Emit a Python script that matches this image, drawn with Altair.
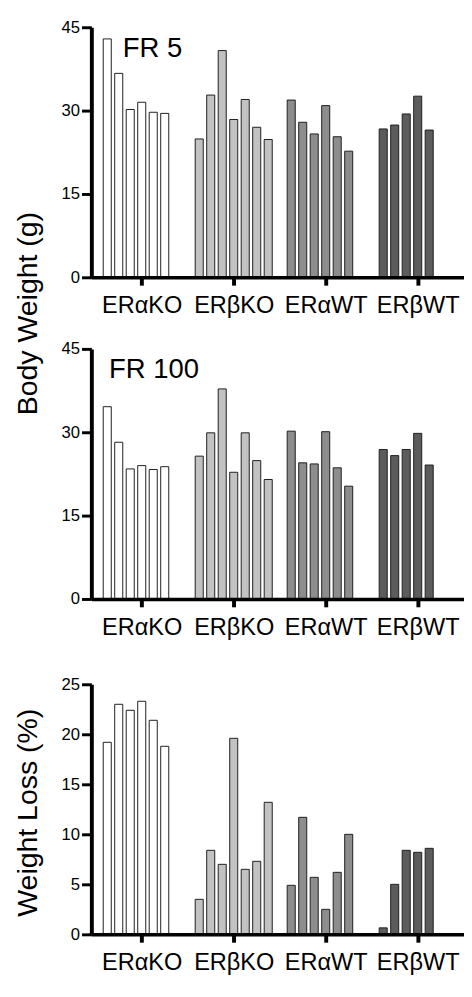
import altair as alt
import pandas as pd

groups = ["ERαKO", "ERβKO", "ERαWT", "ERβWT"]
fills = ["#ffffff", "#c2c2c2", "#8d8d8d", "#5c5c5c"]
group_ticks = [3, 11, 19, 27]
SLOTS = 8

fr5 = [
    [42.9, 36.7, 30.2, 31.5, 29.7, 29.5],
    [24.9, 32.8, 40.8, 28.4, 32.0, 27.0, 24.8],
    [31.9, 27.9, 25.8, 30.9, 25.3, 22.7],
    [26.7, 27.4, 29.4, 32.6, 26.5],
]
fr100 = [
    [34.6, 28.2, 23.4, 24.0, 23.3, 23.8],
    [25.7, 29.9, 37.8, 22.8, 29.9, 24.9, 21.5],
    [30.2, 24.5, 24.3, 30.1, 23.6, 20.3],
    [26.9, 25.8, 26.9, 29.8, 24.1],
]
loss = [
    [19.2, 23.0, 22.4, 23.3, 21.4, 18.8],
    [3.5, 8.4, 7.0, 19.6, 6.5, 7.3, 13.2],
    [4.9, 11.7, 5.7, 2.5, 6.2, 10.0],
    [0.65, 5.0, 8.4, 8.2, 8.6],
]

FONT = "Liberation Sans"
INK = "#000000"
W = 380
H = 255
GAP = 73
label_expr = " : ".join(
    f"datum.value == {t} ? '{g}'" for t, g in zip(group_ticks, groups)
) + " : ''"


def panel(values, ymax, ystep, height, yrange=None, tag=None, tag_x=0,
          title=None, title_y=0):
    rows = []
    for g, (name, vals) in enumerate(zip(groups, values)):
        for i, v in enumerate(vals):
            rows.append({"group": name, "slot": g * SLOTS + i, "value": v})
    df = pd.DataFrame(rows)
    if yrange is None:
        yscale = alt.Scale(domain=[0, ymax], nice=False, zero=True)
    else:
        yscale = alt.Scale(domain=[0, ymax], nice=False, zero=True, range=yrange)
    yaxis_kw = dict(
        values=list(range(0, ymax + 1, ystep)), grid=False, domain=True, ticks=True,
        tickSize=10, tickWidth=3, tickColor=INK, tickOpacity=1, labelFontSize=17,
        labelPadding=2, domainWidth=4, domainColor=INK, domainOpacity=1,
        labelColor=INK, labelFont=FONT, zindex=1,
    )
    if title is not None:
        yaxis_kw.update(title=title, titleAngle=270, titleX=-56, titleY=title_y,
                        titleBaseline="alphabetic", titleAlign="center",
                        titleFontSize=29, titleFontWeight="normal", titleFont=FONT,
                        titleColor=INK)
    else:
        yaxis_kw.update(title=None)
    bars = alt.Chart(df).mark_bar(orient="vertical", size=8.2, stroke="#1e1e1e",
                                  strokeWidth=1).encode(
        x=alt.X("slot:Q",
                scale=alt.Scale(domain=[-0.955, 30.6], nice=False, zero=False),
                axis=alt.Axis(values=group_ticks, labelExpr=label_expr, title=None,
                              grid=False, domain=True, ticks=True, tickSize=8,
                              tickWidth=4, tickColor=INK, tickOpacity=1,
                              labelFontSize=24, labelPadding=9, domainWidth=3.5,
                              domainColor=INK, domainOpacity=1, labelColor=INK,
                              labelFont=FONT, labelFlush=False, labelOverlap=False,
                              zindex=1)),
        y=alt.Y("value:Q", scale=yscale, axis=alt.Axis(**yaxis_kw)),
        fill=alt.Fill("group:N", scale=alt.Scale(domain=groups, range=fills),
                      legend=None),
    )
    layers = [bars]
    if tag is not None:
        t = alt.Chart(pd.DataFrame({"t": [tag]})).mark_text(
            font=FONT, fontSize=28, align="left", baseline="alphabetic",
            color=INK).encode(text="t:N", x=alt.value(tag_x), y=alt.value(30))
        layers.append(t)
    return alt.layer(*layers).properties(width=W, height=height)


p1 = panel(fr5, 45, 15, H, tag="FR 5", tag_x=32)
p2 = panel(fr100, 45, 15, H, tag="FR 100", tag_x=18, title="Body Weight (g)",
           title_y=-36.5)
p3 = panel(loss, 25, 5, H + 14, yrange=[H + 14, 14], title="Weight Loss (%)",
           title_y=14 + H / 2 + 3)

chart = alt.vconcat(p1, p2, p3, spacing=GAP, bounds="flush").properties(
    padding={"left": 5, "top": 1, "right": 0, "bottom": 0}
).configure_view(stroke=None).configure_axis(
    domainColor=INK, tickColor=INK, labelColor=INK, labelFont=FONT,
    titleFont=FONT,
)

chart.save("out.html", embed_options={"renderer": "svg", "actions": False})
